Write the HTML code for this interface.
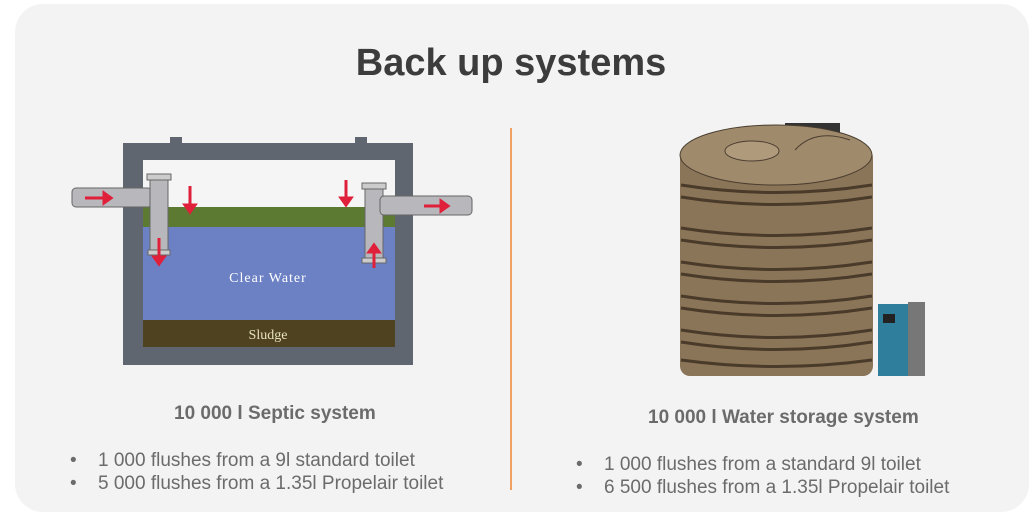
<!DOCTYPE html><html><head><style>
body{margin:0;width:1035px;height:522px;background:#fff;position:relative;overflow:hidden;font-family:"Liberation Sans",sans-serif}
.panel{position:absolute;left:15px;top:4px;width:1014px;height:508px;background:#f3f3f3;border-radius:28px}
.t{position:absolute;white-space:nowrap;color:#6b6b6b}
.b{position:absolute;white-space:nowrap;color:#6b6b6b;font-size:19px}
</style></head><body>
<div class="panel"></div>
<div class="t" style="left:0;width:1022px;text-align:center;top:42px;font-size:38px;font-weight:bold;color:#3c3c3c">Back up systems</div>
<div style="position:absolute;left:510px;top:128px;width:2px;height:362px;background:#f0a060"></div>
<svg style="position:absolute;left:0;top:0" width="1035" height="522">
<rect x="123" y="143" width="290" height="222" fill="#5f6670"/>
<rect x="143" y="160" width="252" height="187" fill="#f5f5f5"/>
<rect x="145" y="143" width="250" height="17" fill="#5f6670"/>
<rect x="170" y="137" width="12" height="7" fill="#5f6670"/><rect x="355" y="137" width="12" height="7" fill="#5f6670"/>
<rect x="143" y="225" width="252" height="97" fill="#6c80c4"/>
<rect x="143" y="207" width="252" height="20" fill="#5d7a33"/>
<rect x="143" y="320" width="252" height="27" fill="#4e4220"/>
<text x="268" y="282" fill="#fff" font-size="14" text-anchor="middle" font-family="Liberation Serif" letter-spacing="1">Clear Water</text>
<text x="268" y="339" fill="#e8e0c0" font-size="14" text-anchor="middle" font-family="Liberation Serif">Sludge</text>
<rect x="72" y="188" width="80" height="19" rx="4" fill="#b8b8bc" stroke="#666"/>
<rect x="150" y="176" width="18" height="76" fill="#b8b8bc" stroke="#666"/>
<rect x="147" y="174" width="24" height="6" fill="#ccc" stroke="#666"/>
<rect x="148" y="250" width="22" height="5" fill="#ccc" stroke="#666"/>
<rect x="365" y="186" width="18" height="74" fill="#b8b8bc" stroke="#666"/>
<rect x="362" y="183" width="24" height="6" fill="#ccc" stroke="#666"/>
<rect x="362" y="258" width="24" height="5" fill="#ccc" stroke="#666"/>
<rect x="380" y="196" width="92" height="19" rx="4" fill="#b8b8bc" stroke="#666"/>
<g stroke="#e0203a" stroke-width="3" fill="#e0203a">
<line x1="85" y1="198" x2="104" y2="198"/><polygon points="104,193 111,198 104,203"/>
<line x1="190" y1="186" x2="190" y2="206"/><polygon points="185,205 195,205 190,212"/>
<line x1="346" y1="180" x2="346" y2="198"/><polygon points="341,198 351,198 346,205"/>
<line x1="159" y1="238" x2="159" y2="258"/><polygon points="154,257 164,257 159,264"/>
<line x1="374" y1="268" x2="374" y2="252"/><polygon points="369,252 379,252 374,245"/>
<line x1="424" y1="206" x2="441" y2="206"/><polygon points="441,201 448,206 441,211"/>
</g>
<rect x="785" y="123" width="55" height="10" fill="#333"/>
<rect x="680" y="148" width="193" height="228" rx="10" fill="#8a7558"/>
<ellipse cx="776" cy="155" rx="96" ry="30" fill="#a08a6c" stroke="#4a3e30"/>
<ellipse cx="752" cy="151" rx="27" ry="10" fill="#b09a7c" stroke="#4a3e30"/>
<path d="M795 150 Q815 128 850 140" stroke="#4a3e30" fill="none"/>
<g stroke="#4a3a2a" stroke-width="3" fill="none">
<path d="M681 185 Q776 200 872 185"/><path d="M681 197 Q776 212 872 197"/>
<path d="M681 228 Q776 243 872 228"/><path d="M681 240 Q776 255 872 240"/>
<path d="M681 262 Q776 277 872 262"/><path d="M681 274 Q776 289 872 274"/>
<path d="M681 296 Q776 311 872 296"/><path d="M681 308 Q776 323 872 308"/>
<path d="M681 330 Q776 345 872 330"/><path d="M681 342 Q776 357 872 342"/>
<path d="M681 360 Q776 373 872 360"/>
</g>
<rect x="878" y="304" width="33" height="72" fill="#2f7f9c"/>
<rect x="908" y="302" width="17" height="74" fill="#777"/>
<rect x="883" y="314" width="12" height="9" fill="#222"/>
</svg>
<div class="t" style="left:174px;top:403px;font-size:19px;font-weight:bold">10 000 l Septic system</div>
<div class="b" style="left:70px;top:450px">•</div><div class="b" style="left:98px;top:450px">1 000 flushes from a 9l standard toilet</div>
<div class="b" style="left:70px;top:473px">•</div><div class="b" style="left:98px;top:473px">5 000 flushes from a 1.35l Propelair toilet</div>
<div class="t" style="left:648px;top:407px;font-size:19px;font-weight:bold">10 000 l Water storage system</div>
<div class="b" style="left:576px;top:454px">•</div><div class="b" style="left:604px;top:454px">1 000 flushes from a standard 9l toilet</div>
<div class="b" style="left:576px;top:477px">•</div><div class="b" style="left:604px;top:477px">6 500 flushes from a 1.35l Propelair toilet</div>
</body></html>
